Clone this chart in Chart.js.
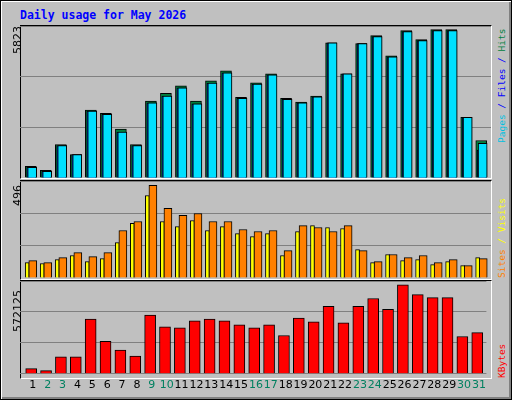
<!DOCTYPE html>
<html><head><meta charset="utf-8">
<script src="https://cdn.jsdelivr.net/npm/chart.js@4/dist/chart.umd.min.js"></script>
<style>
body{margin:0;background:#fff}
#w{position:relative;width:510px;height:398px;background:#C0C0C0;border:1px solid #000;box-shadow:inset 1px 1px 0 #fff,inset -2px -2px 0 #808080;overflow:hidden;font-family:"DejaVu Sans Mono",monospace}
.c{position:absolute;left:19px}
.f{position:absolute;left:19px;width:470px;border-top:1px solid #000;border-left:1px solid #000;border-right:1px solid #fff;border-bottom:1px solid #fff}
.t{position:absolute;white-space:nowrap;transform-origin:0 0;transform:rotate(-90deg);font-size:11px;font-family:"DejaVu Sans",sans-serif}
.r{position:absolute;white-space:nowrap;transform-origin:0 0;transform:rotate(-90deg);font-size:9.5px;font-family:"DejaVu Sans Mono",monospace}
</style></head><body>
<div id="w">
<div style="position:absolute;left:19px;top:7px;color:#0000FF;font-weight:bold;font-size:11.5px">Daily usage for May 2026</div>
<div class="f" style="top:24px;height:152px"></div>
<div class="f" style="top:179px;height:98px"></div>
<div class="f" style="top:279px;height:97px"></div>
<div class="c" style="top:25px;width:471px;height:152px"><canvas id="c1"></canvas></div>
<div class="c" style="top:180px;width:471px;height:97px"><canvas id="c2"></canvas></div>
<div class="c" style="top:280px;width:471px;height:116px"><canvas id="c3"></canvas></div>
<div class="t" style="left:10px;top:53px">5823</div>
<div class="t" style="left:10px;top:205px">496</div>
<div class="t" style="left:10px;top:331px">572125</div>
<div class="r" style="left:495px;top:142px"><span style="color:#00C0E0">Pages</span><span style="color:#0000FF"> / Files / </span><span style="color:#008040">Hits</span></div>
<div class="r" style="left:495px;top:277px"><span style="color:#FF8000">Sites</span><span style="color:#FFFF00"> / Visits</span></div>
<div class="r" style="left:495px;top:377px"><span style="color:#FF0000">KBytes</span></div>
</div>
<script>
const days=[1,2,3,4,5,6,7,8,9,10,11,12,13,14,15,16,17,18,19,20,21,22,23,24,25,26,27,28,29,30,31];
const weekend=[2,3,9,10,16,17,23,24,30,31];
const hits=[449,295,1283,898,2604,2476,1873,1283,2951,3246,3528,2951,3721,4106,3092,3644,3990,3054,2912,3143,5183,3990,5145,5453,4683,5645,5299,5684,5684,2322,1437];
const files=[410,260,1245,898,2565,2440,1760,1245,2875,3140,3450,2840,3640,4030,3050,3600,3950,3015,2875,3105,5183,3990,5145,5415,4645,5605,5260,5645,5645,2322,1070];
const pages=[410,260,1245,898,2565,2440,1760,1245,2875,3140,3450,2840,3640,4030,3050,3600,3950,3015,2875,3105,5183,3990,5145,5415,4645,5605,5260,5645,5645,2322,1330];
const visits=[79,74,94,115,84,99,181,279,422,289,263,294,243,263,227,212,227,115,238,268,258,253,145,79,120,89,94,68,84,63,104];
const sites=[89,79,104,130,109,130,243,289,474,356,320,330,289,289,248,238,243,140,268,258,238,268,140,84,120,104,115,79,94,63,99];
const kbytes=[32000,20000,104000,104000,338000,200000,146000,110000,362000,290000,284000,326000,338000,326000,302000,284000,302000,236000,344000,320000,416000,314000,416000,464000,398000,548000,488000,470000,470000,230000,254000];
const maxTop=5823, maxMid=496, maxBot=572125;

const PX=15.015, W=471;
function ax(c,show){const min=1-c/PX;return {type:'linear',min:min,max:min+W/PX,offset:false,display:!!show,grid:{offset:false}};}
function yax(m){return {min:0,max:m,ticks:{display:false,stepSize:m/3},grid:{color:'#808080',drawTicks:false,lineWidth:1},border:{display:false}};}
function ds(data,color,axis,th,order){return {data:days.map((d,i)=>({x:d,y:data[i]})),backgroundColor:color,borderColor:'#000',borderWidth:1,xAxisID:axis,barThickness:th,order:order,borderSkipped:'bottom',grouped:false};}
const base={responsive:true,maintainAspectRatio:false,animation:false,events:[],layout:{padding:0},plugins:{legend:{display:false},tooltip:{enabled:false}}};

new Chart(document.getElementById('c1'),{type:'bar',data:{datasets:[
 ds(hits,'#008040','xh',11,3), ds(files,'#0040FF','xf',10,2), ds(pages,'#00E0FF','xp',9,1)]},
 options:Object.assign({},base,{scales:{xh:ax(10.8),xf:ax(11.7),xp:ax(12.2),y:yax(maxTop)}})});

new Chart(document.getElementById('c2'),{type:'bar',data:{datasets:[
 ds(visits,'#FFFF00','xv',4,2), ds(sites,'#FF8000','xs',8,1)]},
 options:Object.assign({},base,{scales:{xv:ax(7.2),xs:ax(12.8),y:yax(maxMid)}})});

const xl=ax(13,true);
xl.ticks={autoSkip:false,maxRotation:0,padding:5,font:{family:'DejaVu Sans',size:11},
  color:c=>weekend.includes(c.tick.value)?'#008060':'#000',callback:v=>String(v)};
xl.afterBuildTicks=s=>{s.ticks=days.map(d=>({value:d}));};
xl.grid={display:false,drawTicks:false,offset:false};xl.border={display:false};xl.position='bottom';
new Chart(document.getElementById('c3'),{type:'bar',data:{datasets:[
 ds(kbytes,'#FF0000','xk',11,1)]},
 options:Object.assign({},base,{scales:{xk:ax(11.3),xl:xl,y:yax(maxBot)}})});
</script>
</body></html>
